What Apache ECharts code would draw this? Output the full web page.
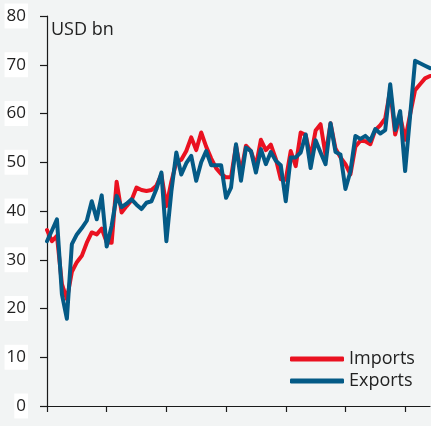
<!DOCTYPE html>
<html>
<head>
<meta charset="utf-8">
<script src="https://cdn.jsdelivr.net/npm/echarts@6/dist/echarts.min.js"></script>
<style>
html,body{margin:0;padding:0;background:#f2f4f4;}
#c{width:431px;height:426px;}
</style>
</head>
<body>
<div id="c"></div>
<script>
const months = [
 'Jan 18','Feb 18','Mar 18','Apr 18','May 18','Jun 18','Jul 18','Aug 18','Sep 18','Oct 18','Nov 18','Dec 18',
 'Jan 19','Feb 19','Mar 19','Apr 19','May 19','Jun 19','Jul 19','Aug 19','Sep 19','Oct 19','Nov 19','Dec 19',
 'Jan 20','Feb 20','Mar 20','Apr 20','May 20','Jun 20','Jul 20','Aug 20','Sep 20','Oct 20','Nov 20','Dec 20',
 'Jan 21','Feb 21','Mar 21','Apr 21','May 21','Jun 21','Jul 21','Aug 21','Sep 21','Oct 21','Nov 21','Dec 21',
 'Jan 22','Feb 22','Mar 22','Apr 22','May 22','Jun 22','Jul 22','Aug 22','Sep 22','Oct 22','Nov 22','Dec 22',
 'Jan 23','Feb 23','Mar 23','Apr 23','May 23','Jun 23','Jul 23','Aug 23','Sep 23','Oct 23','Nov 23','Dec 23',
 'Jan 24','Feb 24','Mar 24','Apr 24','May 24','Jun 24'
];
const imports = [
 36.1,33.8,34.9,25.0,21.9,27.5,29.5,30.8,33.5,35.6,35.2,36.4,
 33.6,33.5,46.0,39.7,41.0,42.2,44.8,44.3,44.1,44.3,45.2,47.5,
 41.0,46.0,50.0,50.5,52.3,55.1,52.5,56.1,53.2,50.8,48.8,47.6,
 46.9,46.9,53.4,47.8,53.4,52.3,49.2,54.6,52.5,53.6,50.7,46.5,
 46.4,52.3,49.2,56.1,55.6,51.0,56.5,57.8,51.5,58.0,52.8,51.0,
 49.6,47.5,53.2,54.4,54.3,53.7,56.6,57.6,59.0,64.8,55.7,59.5,
 54.6,59.8,64.8,66.0,67.2,67.7
];
const exports_ = [
 33.8,36.0,38.3,22.9,17.9,33.2,35.2,36.5,38.0,42.0,38.3,43.2,
 32.7,37.0,43.1,40.8,41.5,42.4,41.3,40.4,41.7,42.0,44.5,47.9,
 33.8,44.0,52.0,47.5,49.8,51.3,46.2,50.0,52.3,49.4,49.4,49.4,
 42.7,44.8,53.7,46.2,53.0,52.3,47.9,52.7,49.6,52.1,50.3,49.4,
 42.0,51.0,51.0,52.0,55.7,48.8,54.5,52.0,49.6,58.0,52.1,51.6,
 44.5,48.1,55.4,54.8,55.4,54.4,56.8,55.9,56.6,66.0,56.6,60.5,
 48.2,59.5,70.8,70.3,69.8,69.3
];
const yTicks = [0,10,20,30,40,50,60,70,80];
const unitLabel = 'USD bn';
const seriesNames = ['Imports','Exports'];

const FONT = '"Open Sans", "Noto Sans", sans-serif';
const chart = echarts.init(document.getElementById('c'), null, {renderer:'canvas'});
chart.setOption({
  backgroundColor: '#f2f4f4',
  animation: false,
  title: {
    text: unitLabel, left: 51, top: 21, padding: 0,
    textStyle: {fontFamily: FONT, fontSize: 18, fontWeight: 'normal', color: '#222'}
  },
  legend: {
    orient: 'vertical', left: 290, top: 350, padding: 0,
    icon: 'roundRect', itemWidth: 54, itemHeight: 5, itemGap: 4,
    data: seriesNames,
    textStyle: {fontFamily: FONT, fontSize: 18, color: '#222', padding: [0,0,0,0]}
  },
  grid: {left: 47, top: 16, width: 383, bottom: 20, containLabel: false},
  xAxis: {
    type: 'category', data: months, boundaryGap: false,
    axisLine: {lineStyle: {color: '#1a1a1a', width: 1.2}},
    axisTick: {interval: 11, length: 6, lineStyle: {color: '#1a1a1a', width: 1.2}},
    axisLabel: {show: false}
  },
  yAxis: {
    type: 'value', min: yTicks[0], max: yTicks[yTicks.length-1], interval: 10,
    splitLine: {show: false},
    axisLine: {show: true, lineStyle: {color: '#1a1a1a', width: 1.2}},
    axisTick: {show: true, length: 7, lineStyle: {color: '#1a1a1a', width: 1.2}},
    axisLabel: {
      fontFamily: FONT, fontSize: 17, color: '#222', margin: 19,
      backgroundColor: '#ffffff', padding: [4,2,4,2]
    }
  },
  series: [
    {name: seriesNames[0], type: 'line', data: imports, symbol: 'none', color: '#ea1120',
     lineStyle: {width: 4, color: '#ea1120', cap: 'round', join: 'round'}},
    {name: seriesNames[1], type: 'line', data: exports_, symbol: 'none', color: '#045a86',
     lineStyle: {width: 4, color: '#045a86', cap: 'round', join: 'round'}}
  ]
});
</script>
</body>
</html>
